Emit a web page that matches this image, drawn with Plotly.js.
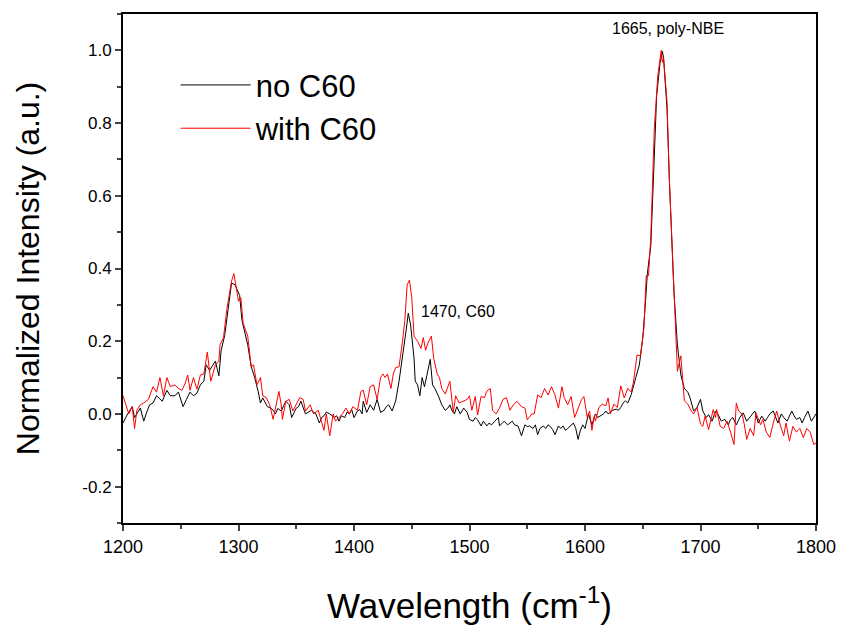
<!DOCTYPE html>
<html>
<head>
<meta charset="utf-8">
<script src="https://cdn.plot.ly/plotly-3.0.1.min.js"></script>
<style>html,body{margin:0;padding:0;background:#fff;}#chart{width:843px;height:630px;}</style>
</head>
<body>
<div id="chart"></div>
<script>
// Wavenumbers (cm^-1) and normalized intensities
const noC60_x = [1200,1204,1208,1210,1215,1218,1220,1223,1226,1229,1234,1238,1241,1245,1248,1252,1255,1258,1261,1264,1267,1270,1272,1275,1277,1280,1283,1285,1288,1291,1294,1297,1299,1301,1303,1305,1308,1311,1314,1317,1319,1321,1323,1325,1328,1330,1332,1334,1337,1339,1341,1344,1346,1350,1352,1354,1356,1358,1363,1365,1367,1370,1372,1374,1376,1379,1381,1383,1385,1387,1389,1392,1394,1396,1398,1400,1403,1405,1407,1408,1411,1414,1417,1420,1423,1426,1428,1430,1433,1436,1439,1442,1445,1447,1449,1452,1453,1455,1457,1459,1461,1463,1466,1468,1470,1473,1476,1479,1481,1483,1485,1487,1489,1492,1495,1498,1500,1503,1505,1507,1510,1512,1515,1517,1519,1522,1525,1526,1528,1530,1533,1535,1537,1539,1542,1545,1548,1550,1552,1555,1557,1559,1561,1564,1566,1568,1570,1572,1574,1577,1579,1581,1583,1585,1588,1590,1592,1594,1596,1598,1600,1603,1606,1609,1611,1614,1616,1618,1620,1622,1624,1627,1629,1631,1633,1635,1637,1640,1642,1644,1647,1650,1652,1654,1657,1660,1662,1665,1667,1668,1671,1673,1675,1677,1680,1683,1686,1689,1691,1694,1697,1700,1702,1705,1707,1710,1713,1715,1718,1721,1724,1726,1728,1731,1734,1737,1740,1743,1745,1747,1750,1753,1756,1758,1760,1763,1767,1770,1772,1775,1777,1779,1781,1783,1786,1788,1790,1793,1796,1798,1800];
const noC60_y = [-0.025,0.0,0.02,-0.01,0.016,-0.02,0.0,0.025,0.03,0.05,0.035,0.065,0.05,0.05,0.06,0.02,0.04,0.06,0.05,0.057,0.08,0.09,0.135,0.12,0.13,0.145,0.105,0.175,0.215,0.29,0.36,0.355,0.34,0.326,0.257,0.227,0.19,0.13,0.1,0.062,0.03,0.044,0.03,0.02,0.016,0.01,0.0,0.015,0.008,0.02,0.035,0.025,-0.01,0.016,0.02,0.035,0.015,0.0,0.01,0.005,0.0,-0.025,-0.01,-0.005,0.005,0.0,-0.005,-0.01,-0.005,-0.02,-0.005,-0.01,0.005,0.0,0.012,-0.01,0.008,0.012,0.0,0.035,0.004,0.025,0.01,0.04,0.004,0.01,0.02,0.025,0.008,0.035,0.09,0.153,0.227,0.277,0.245,0.153,0.09,0.08,0.05,0.1,0.075,0.105,0.15,0.08,0.07,0.05,0.025,0.01,0.015,0.025,0.008,0.0,0.02,0.0,0.016,0.004,-0.015,-0.02,-0.01,-0.016,-0.033,-0.02,-0.033,-0.025,-0.03,-0.02,-0.01,-0.033,-0.025,-0.02,-0.03,-0.025,-0.02,-0.03,-0.033,-0.06,-0.03,-0.035,-0.033,-0.04,-0.03,-0.057,-0.04,-0.033,-0.04,-0.03,-0.035,-0.043,-0.057,-0.033,-0.04,-0.033,-0.045,-0.04,-0.03,-0.025,-0.04,-0.07,-0.045,-0.03,-0.04,0.0,-0.03,0.0,-0.01,-0.005,0.0,0.008,0.0,0.005,0.01,0.013,0.01,0.018,0.03,0.036,0.03,0.053,0.08,0.1,0.134,0.208,0.29,0.386,0.464,0.693,0.874,0.967,0.997,0.98,0.84,0.647,0.49,0.336,0.19,0.107,0.07,0.06,0.044,0.008,0.018,0.04,0.008,-0.01,-0.002,-0.02,0.008,0.0,-0.02,-0.015,-0.03,-0.015,-0.01,-0.03,-0.01,0.003,-0.02,-0.006,0.0,0.008,-0.025,-0.006,-0.02,-0.01,0.0,0.008,-0.025,0.0,-0.01,-0.02,-0.005,0.008,-0.005,-0.015,-0.01,-0.025,-0.01,0.008,-0.02,-0.01,0.0];

const withC60_x = [1200,1205,1208,1210,1212,1215,1218,1222,1226,1229,1232,1235,1238,1241,1245,1248,1251,1254,1256,1258,1261,1264,1267,1270,1273,1276,1280,1283,1284,1287,1290,1294,1296,1298,1300,1302,1304,1308,1311,1313,1316,1319,1321,1324,1327,1330,1332,1335,1337,1338,1341,1344,1347,1350,1353,1356,1358,1362,1365,1369,1371,1374,1376,1379,1382,1384,1387,1390,1393,1396,1399,1403,1406,1408,1411,1414,1417,1420,1423,1425,1427,1429,1432,1434,1436,1439,1442,1444,1446,1448,1450,1452,1455,1458,1460,1462,1464,1467,1469,1472,1474,1476,1479,1483,1486,1488,1491,1494,1498,1500,1502,1505,1507,1510,1513,1515,1518,1520,1523,1526,1529,1532,1535,1538,1541,1545,1548,1550,1554,1556,1559,1562,1565,1568,1571,1574,1577,1580,1582,1585,1588,1591,1594,1597,1599,1602,1604,1606,1608,1609,1612,1615,1618,1620,1622,1625,1628,1631,1634,1637,1640,1642,1645,1648,1651,1653,1655,1657,1660,1663,1666,1667,1668,1671,1673,1675,1677,1680,1683,1686,1689,1692,1694,1697,1700,1702,1704,1707,1711,1713,1714,1717,1720,1723,1726,1729,1731,1733,1736,1738,1740,1743,1746,1748,1752,1754,1757,1760,1763,1766,1769,1772,1774,1777,1780,1783,1786,1789,1792,1795,1798,1800];
const withC60_y = [0.05,0.0,0.02,-0.04,0.01,0.025,0.03,0.04,0.075,0.06,0.1,0.05,0.1,0.075,0.08,0.07,0.065,0.085,0.107,0.065,0.1,0.068,0.107,0.11,0.17,0.09,0.135,0.145,0.19,0.21,0.29,0.365,0.386,0.35,0.31,0.32,0.25,0.214,0.13,0.135,0.08,0.1,0.05,0.045,0.025,-0.015,0.016,0.062,0.025,-0.015,0.035,0.04,0.008,0.025,0.045,0.04,0.008,0.025,0.0,0.01,-0.01,-0.045,0.0,-0.06,0.0,-0.02,-0.01,0.0,0.016,0.0,0.02,0.01,0.062,0.065,0.025,0.075,0.08,0.04,0.1,0.11,0.1,0.11,0.07,0.11,0.127,0.13,0.2,0.257,0.355,0.368,0.32,0.214,0.2,0.18,0.21,0.175,0.195,0.214,0.153,0.11,0.1,0.07,0.055,0.09,0.004,0.05,0.03,0.035,0.04,0.05,0.01,0.048,-0.003,0.048,0.045,0.063,0.07,0.01,0.0,0.016,0.04,0.045,0.01,0.025,0.035,0.02,0.016,-0.016,0.0,0.0,0.052,0.045,0.07,0.052,0.075,0.052,0.016,0.075,0.045,0.025,0.048,-0.01,0.016,0.04,0.048,-0.01,0.008,-0.045,-0.005,-0.02,0.018,0.027,0.022,0.044,0.0,0.027,0.018,0.077,0.044,0.07,0.06,0.088,0.162,0.16,0.236,0.38,0.38,0.49,0.784,0.93,1.0,0.967,0.98,0.86,0.647,0.5,0.33,0.117,0.16,0.036,0.027,0.008,0.0,0.018,-0.028,-0.034,-0.006,-0.043,0.012,-0.01,0.012,-0.034,-0.04,-0.02,-0.05,-0.084,0.03,0.008,0.0,-0.03,-0.07,-0.04,-0.06,0.003,-0.03,-0.015,-0.05,-0.065,-0.025,0.008,-0.03,-0.06,-0.025,-0.075,-0.034,-0.05,-0.04,-0.065,-0.04,-0.05,-0.084,-0.08];

const seriesNames = ['no C60', 'with C60'];
const yTickVals = [-0.2, 0.0, 0.2, 0.4, 0.6, 0.8, 1.0];
const yTickText = ['-0.2', '0.0', '0.2', '0.4', '0.6', '0.8', '1.0'];
const xTickVals = [1200, 1300, 1400, 1500, 1600, 1700, 1800];
const peakLabels = [
  {x: 1490, y: 0.282, text: '1470, C60'},
  {x: 1672, y: 1.06, text: '1665, poly-NBE'}
];

const FONT = 'Arial, "Liberation Sans", sans-serif';

const traces = [
  {x: noC60_x, y: noC60_y, type: 'scatter', mode: 'lines', name: seriesNames[0],
   line: {color: '#000000', width: 1}},
  {x: withC60_x, y: withC60_y, type: 'scatter', mode: 'lines', name: seriesNames[1],
   line: {color: '#ff0000', width: 1}}
];

const layout = {
  width: 843, height: 630,
  margin: {l: 123, r: 27, t: 14, b: 107},
  paper_bgcolor: '#fff', plot_bgcolor: '#fff',
  font: {family: FONT, color: '#000'},
  showlegend: true,
  legend: {x: 0.076, y: 0.913, xanchor: 'left', yanchor: 'top', itemwidth: 70,
    bgcolor: 'rgba(0,0,0,0)', font: {size: 31, family: FONT}, tracegroupgap: 0},
  xaxis: {
    range: [1200, 1800], tickvals: xTickVals, ticks: 'outside', ticklen: 6, tickwidth: 2,
    showline: true, linewidth: 2, linecolor: '#000', mirror: true,
    showgrid: false, zeroline: false,
    tickfont: {size: 18, family: FONT},
    minor: {dtick: 50, ticks: 'outside', ticklen: 4, tickwidth: 2, showgrid: false},
    title: {text: 'Wavelength (cm<sup>-1</sup>)', font: {size: 35, family: FONT}, standoff: 38}
  },
  yaxis: {
    range: [-0.3, 1.1], tickvals: yTickVals, ticktext: yTickText, ticks: 'outside', ticklen: 6, tickwidth: 2,
    showline: true, linewidth: 2, linecolor: '#000', mirror: true,
    showgrid: false, zeroline: false,
    tickfont: {size: 17, family: FONT},
    minor: {dtick: 0.1, tick0: 0, ticks: 'outside', ticklen: 4, tickwidth: 2, showgrid: false},
    title: {text: 'Normalized Intensity (a.u.)', font: {size: 32, family: FONT}, standoff: 33}
  },
  annotations: peakLabels.map(p => ({
    x: p.x, y: p.y, xref: 'x', yref: 'y', text: p.text, showarrow: false,
    font: {size: 16, family: FONT, color: '#000'}
  }))
};

Plotly.newPlot('chart', traces, layout, {displayModeBar: false, staticPlot: true});
</script>
</body>
</html>
